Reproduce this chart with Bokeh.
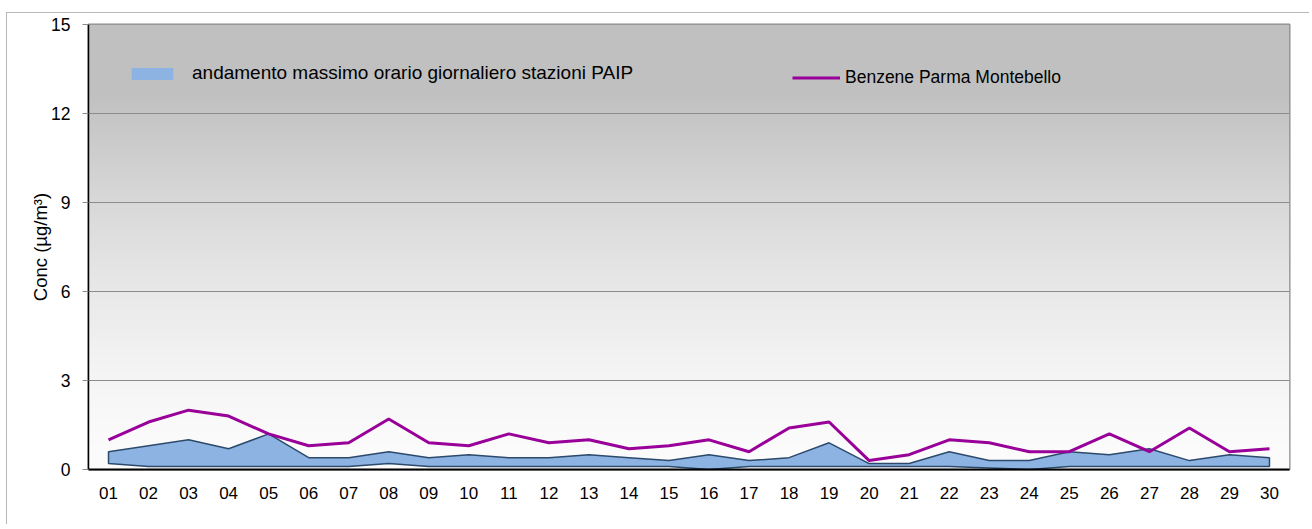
import numpy as np
from bokeh.plotting import figure
from bokeh.models import Range1d, FixedTicker, Legend, LegendItem
from bokeh.embed import file_html
from bokeh.resources import INLINE

# ---- data ----
days = ["01", "02", "03", "04", "05", "06", "07", "08", "09", "10",
        "11", "12", "13", "14", "15", "16", "17", "18", "19", "20",
        "21", "22", "23", "24", "25", "26", "27", "28", "29", "30"]
benzene_montebello = [1.0, 1.6, 2.0, 1.8, 1.2, 0.8, 0.9, 1.7, 0.9, 0.8,
                      1.2, 0.9, 1.0, 0.7, 0.8, 1.0, 0.6, 1.4, 1.6, 0.3,
                      0.5, 1.0, 0.9, 0.6, 0.6, 1.2, 0.6, 1.4, 0.6, 0.7]
paip_max = [0.6, 0.8, 1.0, 0.7, 1.2, 0.4, 0.4, 0.6, 0.4, 0.5,
            0.4, 0.4, 0.5, 0.4, 0.3, 0.5, 0.3, 0.4, 0.9, 0.2,
            0.2, 0.6, 0.3, 0.3, 0.6, 0.5, 0.7, 0.3, 0.5, 0.4]
paip_min = [0.2, 0.1, 0.1, 0.1, 0.1, 0.1, 0.1, 0.2, 0.1, 0.1,
            0.1, 0.1, 0.1, 0.1, 0.1, 0.0, 0.1, 0.1, 0.1, 0.1,
            0.1, 0.1, 0.05, 0.0, 0.1, 0.1, 0.1, 0.1, 0.1, 0.1]
y_ticks = [0, 3, 6, 9, 12, 15]

label_band = "andamento massimo orario giornaliero stazioni PAIP"
label_line = "Benzene Parma Montebello"
y_label = "Conc (µg/m³)"

FONT = "Liberation Sans"

x = list(range(1, len(days) + 1))

p = figure(output_backend="svg", toolbar_location=None,
           frame_width=1201, frame_height=445,
           x_range=Range1d(0.5, len(days) + 0.5), y_range=Range1d(0, 15),
           min_border_left=88, min_border_top=24, min_border_right=20,
           min_border_bottom=55)
p.background_fill_color = "white"
p.border_fill_color = "white"
p.border_fill_alpha = 0
p.styles = {
    "background": "linear-gradient(#b8b8b8,#b8b8b8) 6px 12px / 1px 100% no-repeat, "
                  "linear-gradient(#b8b8b8,#b8b8b8) 6px 12px / 100% 1px no-repeat, white"
}
p.outline_line_color = "#8a8a8a"
p.outline_line_width = 2

# background gradient of the plot area
n = 445
t = (np.arange(n) + 0.5) / n
g = 252 - 60 * np.clip(t / 0.85, 0, 1) ** 1.5
g = g.astype(np.uint32)
img = np.zeros((n, 1), dtype=np.uint32)
img[:, 0] = (255 << 24) | (g << 16) | (g << 8) | g
bg = p.image_rgba(image=[img], x=0.5, y=0, dw=len(days), dh=15)
bg.level = "image"

# grid
p.xgrid.grid_line_color = None
p.ygrid.grid_line_color = "#8c8c8c"
p.ygrid.grid_line_width = 1
p.ygrid.ticker = FixedTicker(ticks=y_ticks)

# band
band = p.varea(x=x, y1=paip_min, y2=paip_max, fill_color="#8DB3E2")
p.patch(x + x[::-1], paip_max + paip_min[::-1], fill_alpha=0,
        line_color="#2C4A6C", line_width=1.5)

# benzene line
ln = p.line(x, benzene_montebello, line_color="#990099", line_width=3)

# axes
ya = p.yaxis[0]
ya.ticker = FixedTicker(ticks=y_ticks)
ya.axis_line_color = "black"
ya.axis_line_width = 1.5
ya.major_tick_line_color = "#8c8c8c"
ya.major_tick_out = 6
ya.major_tick_in = 0
ya.minor_tick_line_color = None
ya.major_label_text_font = FONT
ya.major_label_text_font_size = "17.5px"
ya.major_label_text_color = "black"
ya.major_label_standoff = 12
ya.axis_label = y_label
ya.axis_label_text_font = FONT
ya.axis_label_text_font_size = "18.5px"
ya.axis_label_text_font_style = "normal"
ya.axis_label_text_color = "black"
ya.axis_label_standoff = -3

xa = p.xaxis[0]
xa.ticker = FixedTicker(ticks=x)
xa.major_label_overrides = {i: d for i, d in zip(x, days)}
xa.axis_line_color = "black"
xa.axis_line_width = 2
xa.major_tick_line_color = None
xa.major_tick_out = 0
xa.major_tick_in = 0
xa.minor_tick_line_color = None
xa.major_label_text_font = FONT
xa.major_label_text_font_size = "17px"
xa.major_label_text_color = "black"
xa.major_label_standoff = 17

# legends
leg1 = Legend(items=[LegendItem(label=label_band, renderers=[band])],
              location=(38, 385), orientation="horizontal",
              glyph_width=52, glyph_height=15, label_standoff=14,
              padding=0, margin=0, spacing=0,
              border_line_alpha=0, background_fill_alpha=0,
              label_text_font=FONT, label_text_font_size="19px",
              label_text_color="black")
leg2 = Legend(items=[LegendItem(label=label_line, renderers=[ln])],
              location=(704, 381), orientation="horizontal",
              glyph_width=48, glyph_height=15, label_standoff=5,
              padding=0, margin=0, spacing=0,
              border_line_alpha=0, background_fill_alpha=0,
              label_text_font=FONT, label_text_font_size="17.5px",
              label_text_color="black")
p.add_layout(leg1, "center")
p.add_layout(leg2, "center")

open("out.html", "w").write(file_html(p, INLINE))
